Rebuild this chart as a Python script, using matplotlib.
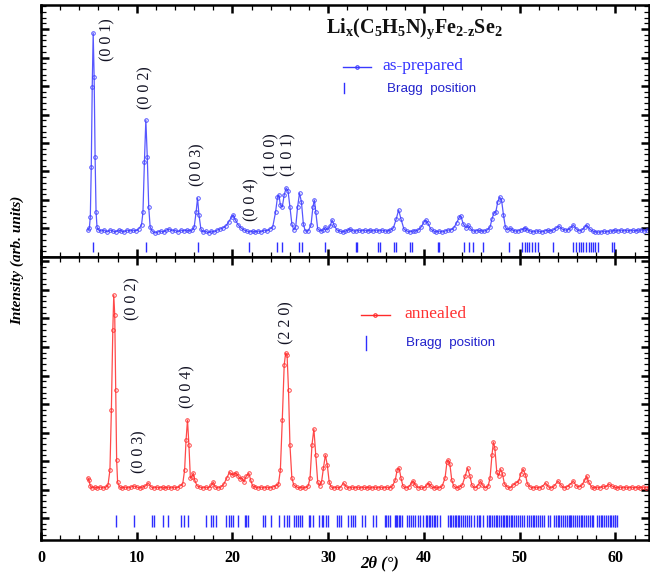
import matplotlib
matplotlib.use("Agg")
import matplotlib.pyplot as plt
from matplotlib.ticker import MultipleLocator, FixedLocator, NullFormatter
import numpy as np

plt.rcParams['mathtext.fontset'] = 'custom'
plt.rcParams['mathtext.rm'] = 'Liberation Serif:bold'
plt.rcParams['mathtext.bf'] = 'Liberation Serif:bold'
plt.rcParams['mathtext.it'] = 'Liberation Serif:italic'

# ---------------- data: as-prepared (top) ----------------
tth_top = [4.9, 5.05, 5.15, 5.25, 5.35, 5.45, 5.55, 5.65, 5.75, 5.85, 6.0, 6.3, 6.6, 6.9, 7.2, 7.5, 7.8, 8.1,
           8.4, 8.7, 9.0, 9.3, 9.6, 9.9, 10.2, 10.5, 10.65, 10.8, 10.95, 11.1, 11.25, 11.4, 11.6, 11.9, 12.2,
           12.5, 12.8, 13.1, 13.4, 13.7, 14.0, 14.3, 14.6, 14.9, 15.2, 15.5, 15.8, 16.0, 16.2, 16.35, 16.5,
           16.7, 16.9, 17.2, 17.5, 17.8, 18.1, 18.4, 18.7, 19.0, 19.3, 19.6, 19.9, 20.1, 20.3, 20.6, 20.9,
           21.2, 21.5, 21.8, 22.1, 22.4, 22.7, 23.0, 23.3, 23.6, 23.9, 24.2, 24.5, 24.7, 24.85, 25.0, 25.2,
           25.4, 25.6, 25.8, 26.0, 26.2, 26.4, 26.6, 26.8, 27.0, 27.2, 27.4, 27.6, 27.9, 28.2, 28.4, 28.55,
           28.7, 28.9, 29.2, 29.5, 29.7, 29.9, 30.2, 30.4, 30.6, 30.9, 31.2, 31.5, 31.8, 32.1, 32.3, 32.6,
           32.9, 33.2, 33.5, 33.8, 34.1, 34.4, 34.7, 35.0, 35.3, 35.6, 35.9, 36.2, 36.5, 36.8, 37.1, 37.35,
           37.6, 37.9, 38.2, 38.5, 38.8, 39.1, 39.4, 39.7, 40.0, 40.2, 40.4, 40.7, 41.0, 41.3, 41.6, 41.9,
           42.2, 42.5, 42.8, 43.1, 43.4, 43.7, 43.85, 44.1, 44.4, 44.6, 44.8, 45.1, 45.4, 45.7, 46.0, 46.3,
           46.6, 46.9, 47.1, 47.3, 47.5, 47.7, 47.9, 48.1, 48.3, 48.5, 48.7, 49.0, 49.2, 49.5, 49.8, 50.1,
           50.4, 50.6, 50.8, 51.1, 51.4, 51.7, 52.0, 52.3, 52.6, 52.9, 53.2, 53.5, 53.8, 54.1, 54.4, 54.7,
           55.0, 55.3, 55.6, 55.9, 56.2, 56.5, 56.8, 57.0, 57.3, 57.6, 57.9, 58.2, 58.5, 58.8, 59.1, 59.4,
           59.7, 60.0, 60.3, 60.6, 60.9, 61.2, 61.5, 61.8, 62.1, 62.4, 62.7, 63.0, 63.3, 63.6, 63.9]
int_top = [27, 29, 40, 90, 170, 224, 180, 100, 45, 30, 27, 26, 27, 25, 27, 26, 25, 27,
           26, 25, 27, 26, 27, 26, 28, 32, 45, 95, 137, 100, 50, 30, 26, 24, 25,
           26, 25, 27, 28, 26, 27, 25, 27, 26, 27, 26, 27, 30, 45, 59, 42,
           28, 25, 26, 24, 26, 25, 27, 28, 29, 31, 35, 40, 42, 37, 32, 29,
           27, 26, 25, 26, 25, 26, 25, 27, 26, 28, 30, 45, 60, 62, 52, 50,
           62, 69, 66, 50, 33, 27, 30, 50, 64, 55, 33, 26, 26, 32, 50, 57,
           45, 28, 26, 27, 30, 27, 31, 37, 32, 27, 26, 25, 26, 27, 28, 26,
           26, 27, 26, 27, 26, 27, 26, 27, 26, 27, 26, 26, 27, 29, 38, 47,
           38, 28, 26, 25, 26, 26, 27, 30, 35, 37, 34, 28, 26, 25, 26, 25,
           26, 27, 27, 29, 34, 40, 41, 33, 29, 32, 29, 26, 26, 27, 26, 26,
           27, 30, 38, 44, 45, 55, 60, 57, 42, 30, 27, 29, 27, 26, 26, 27,
           28, 29, 27, 26, 25, 26, 26, 25, 26, 27, 26, 27, 29, 31, 28, 27,
           27, 29, 32, 28, 26, 27, 30, 32, 28, 26, 25, 25, 25, 26, 25, 26,
           26, 27, 26, 27, 26, 27, 26, 27, 26, 27, 27, 26, 27, 26, 26]

bragg_top = [5.46, 10.97, 16.37, 21.73, 24.69, 25.15, 26.96, 27.24, 29.68, 32.85, 33.05, 35.2, 35.4,
             36.9, 37.1, 38.5, 38.7, 41.45, 41.6, 44.2, 44.65, 45.1, 46.15, 48.9, 50.2, 50.5, 50.75,
             51.0, 51.27, 51.55, 51.86, 53.5, 55.6, 55.9, 56.2, 56.4, 56.6, 56.9, 57.2, 57.4, 57.6,
             57.9, 58.2, 59.6, 59.8]

# ---------------- data: annealed (bottom) ----------------
tth_bot = [4.9, 5.0, 5.15, 5.3, 5.6, 5.9, 6.2, 6.5, 6.8, 7.0, 7.2, 7.35, 7.5, 7.6, 7.7, 7.8, 7.9, 8.0,
           8.2, 8.5, 8.8, 9.1, 9.4, 9.7, 10.0, 10.3, 10.6, 10.9, 11.2, 11.5, 11.8, 12.1, 12.4, 12.7, 13.0,
           13.3, 13.6, 13.9, 14.2, 14.5, 14.8, 15.0, 15.15, 15.3, 15.45, 15.6, 15.75, 15.9, 16.05, 16.3,
           16.6, 16.9, 17.2, 17.5, 17.8, 18.0, 18.2, 18.5, 18.8, 19.1, 19.4, 19.7, 19.95, 20.2, 20.4, 20.6,
           20.8, 21.0, 21.2, 21.45, 21.7, 21.9, 22.1, 22.4, 22.7, 23.0, 23.3, 23.6, 23.9, 24.2, 24.5, 24.8,
           25.0, 25.2, 25.4, 25.55, 25.7, 25.85, 26.0, 26.2, 26.4, 26.7, 27.0, 27.3, 27.6, 27.9, 28.1, 28.3,
           28.5, 28.7, 28.9, 29.1, 29.3, 29.5, 29.7, 29.9, 30.1, 30.3, 30.6, 30.9, 31.2, 31.6, 31.9, 32.2,
           32.5, 32.8, 33.1, 33.4, 33.7, 34.0, 34.3, 34.6, 34.9, 35.2, 35.5, 35.8, 36.1, 36.4, 36.7, 37.0,
           37.2, 37.4, 37.6, 37.8, 38.1, 38.4, 38.7, 38.9, 39.1, 39.4, 39.7, 40.0, 40.3, 40.5, 40.7, 41.0,
           41.3, 41.6, 41.9, 42.2, 42.4, 42.55, 42.7, 42.9, 43.1, 43.4, 43.7, 44.0, 44.3, 44.55, 44.8, 45.0,
           45.3, 45.6, 45.9, 46.1, 46.4, 46.7, 46.9, 47.1, 47.25, 47.4, 47.6, 47.8, 48.0, 48.2, 48.4, 48.7,
           49.0, 49.3, 49.6, 49.9, 50.1, 50.35, 50.6, 50.8, 51.1, 51.4, 51.7, 52.0, 52.3, 52.7, 53.0, 53.3,
           53.6, 54.0, 54.3, 54.6, 54.9, 55.2, 55.6, 55.9, 56.2, 56.5, 56.8, 57.0, 57.2, 57.5, 57.8, 58.1,
           58.4, 58.7, 59.0, 59.3, 59.6, 59.9, 60.2, 60.5, 60.8, 61.1, 61.4, 61.7, 62.0, 62.3, 62.6, 62.9,
           63.2, 63.5, 63.9]
int_bot = [62, 60, 54, 52, 53, 52, 53, 52, 53, 55, 70, 130, 210, 245, 225, 150, 80, 58,
           53, 52, 53, 52, 53, 54, 53, 52, 53, 54, 57, 53, 52, 53, 52, 53, 52,
           53, 52, 53, 52, 54, 56, 70, 100, 120, 95, 62, 63, 67, 60, 54,
           53, 52, 53, 52, 55, 58, 53, 52, 53, 56, 62, 68, 65, 66, 67, 64,
           61, 62, 58, 64, 67, 60, 54, 53, 52, 53, 52, 53, 52, 53, 54, 56,
           70, 120, 175, 187, 185, 150, 95, 62, 55, 53, 52, 53, 52, 54, 62, 95,
           111, 85, 58, 54, 58, 72, 85, 75, 58, 53, 52, 53, 52, 57, 53, 52,
           53, 52, 53, 52, 53, 52, 53, 52, 53, 52, 53, 52, 53, 52, 54, 60,
           70, 72, 62, 54, 52, 53, 57, 59, 55, 52, 53, 52, 55, 57, 54, 52,
           53, 52, 54, 62, 78, 80, 76, 60, 54, 52, 53, 55, 64, 72, 64, 55,
           52, 54, 59, 55, 52, 54, 62, 85, 98, 92, 68, 64, 71, 66, 56, 53,
           52, 55, 57, 59, 66, 71, 65, 56, 53, 52, 53, 52, 53, 57, 53, 52,
           54, 59, 55, 52, 53, 55, 59, 54, 53, 55, 60, 64, 58, 53, 52, 53,
           52, 54, 53, 56, 54, 53, 52, 53, 52, 53, 52, 53, 52, 53, 52, 53,
           52, 53, 52]

bragg_bot = [7.8, 9.75, 11.6, 11.85, 12.7, 13.25, 14.65, 14.9, 15.4, 17.2, 17.8, 18.0, 18.3, 19.3, 19.6,
             19.8, 20.05, 20.55, 21.3, 21.4, 21.6, 23.2, 23.4, 24.0, 24.9, 25.4, 25.7, 25.9, 26.4, 26.6,
             26.8, 27.1, 27.3, 27.95, 28.1, 28.4, 29.0, 29.35, 29.5, 29.75, 30.0, 30.9, 31.1, 31.3, 32.1,
             32.4, 32.6, 32.8, 33.5, 33.8, 34.7, 35.0, 35.9, 36.0, 36.2, 36.5, 37.0, 37.1, 37.2, 37.4,
             37.5, 37.7, 38.2, 38.4, 38.6, 38.8, 39.1, 39.4, 39.6, 39.9, 40.2, 40.35, 40.5, 40.6, 40.8,
             41.0, 41.2, 41.4, 41.7, 42.5, 42.7, 42.8, 43.0, 43.2, 43.35, 43.5, 43.7, 43.9, 44.1, 44.3,
             44.5, 44.7, 44.9, 45.2, 45.5, 45.7, 45.9, 46.2, 46.6, 46.8, 46.9, 47.1, 47.3, 47.5, 47.6,
             47.8, 48.0, 48.2, 48.4, 48.55, 48.7, 48.9, 49.1, 49.2, 49.4, 49.6, 49.8, 50.0, 50.2, 50.4,
             50.8, 51.0, 51.2, 51.35, 51.5, 51.7, 51.9, 52.1, 52.3, 52.5, 52.9, 53.2, 53.6, 53.8, 54.0,
             54.1, 54.3, 54.5, 54.7, 54.9, 55.1, 55.2, 55.4, 55.6, 55.8, 56.0, 56.2, 56.4, 56.5, 56.7,
             56.9, 57.1, 57.3, 57.5, 57.7, 58.1, 58.3, 58.5, 58.6, 58.8, 59.0, 59.2, 59.4, 59.5, 59.7,
             59.9, 60.0, 60.2]

# peak labels: (text, 2theta, height)
labels_top = ["(0 0 1)", "(0 0 2)", "(0 0 3)", "(0 0 4)", "(1 0 0)", "(1 0 1)"]
labels_top_x = [6.9, 10.9, 16.3, 21.95, 24.05, 25.8]
labels_top_y = [217, 169, 92, 57, 102, 102]
labels_bot = ["(0 0 2)", "(0 0 3)", "(0 0 4)", "(2 2 0)"]
labels_bot_x = [9.5, 10.3, 15.3, 25.6]
labels_bot_y = [241, 88, 153, 217]

BLUE = '#3a3aff'
RED = '#ff2a2a'
TICKBLUE = '#2e2eff'
W, H = 650, 573

fig = plt.figure(figsize=(6.5, 5.73), dpi=100)
L, R = 41 / W, 649 / W
y_top, y_mid, y_bot = 1 - 5 / H, 1 - 257 / H, 1 - 540 / H
ax1 = fig.add_axes([L, y_mid, R - L, y_top - y_mid])
ax2 = fig.add_axes([L, y_bot, R - L, y_mid - y_bot])

ax1.plot(tth_top, int_top, color=BLUE, lw=0.9, marker='o', ms=2.6, mfc='none', mec=BLUE, mew=0.7, alpha=0.85)
ax1.vlines(bragg_top, 5, 15, color=TICKBLUE, lw=1.0)
ax2.plot(tth_bot, int_bot, color=RED, lw=0.9, marker='o', ms=2.6, mfc='none', mec=RED, mew=0.7, alpha=0.85)
ax2.vlines(bragg_bot, 13, 25, color=TICKBLUE, lw=1.0)

ax1.set_ylim(0, 252)
ax2.set_ylim(0, 283)
for ax in (ax1, ax2):
    ax.set_xlim(0, 63.5)
    for s in ax.spines.values():
        s.set_linewidth(1.8)
    ax.xaxis.set_major_locator(MultipleLocator(10))
    ax.xaxis.set_minor_locator(MultipleLocator(2))
    ax.tick_params(which='both', direction='in', top=True, right=True, labelleft=False)
    ax.tick_params(which='major', length=6, width=1.8)
    ax.tick_params(which='minor', length=3.5, width=0.9)
    ax.yaxis.set_major_formatter(NullFormatter())

ax1.yaxis.set_major_locator(MultipleLocator(28.5))
ax1.yaxis.set_minor_locator(MultipleLocator(5.7))
ax2.yaxis.set_major_locator(FixedLocator(np.arange(22, 283, 28.5)))
ax2.yaxis.set_minor_locator(FixedLocator(np.arange(-0.8, 283, 5.7)))
ax1.tick_params(labelbottom=False)
ax2.set_xticks([0, 10, 20, 30, 40, 50, 60])
ax2.set_xticklabels(['0', '10', '20', '30', '40', '50', '60'], fontfamily='Liberation Serif',
                    fontweight='bold', fontsize=11.5)
ax2.tick_params(axis='x', pad=7)

for t, x, y in zip(labels_top, labels_top_x, labels_top_y):
    ax1.text(x, y, t, rotation=90, ha='center', va='center', fontfamily='Liberation Serif',
             fontsize=11.5, color='#111122')
for t, x, y in zip(labels_bot, labels_bot_x, labels_bot_y):
    ax2.text(x, y, t, rotation=90, ha='center', va='center', fontfamily='Liberation Serif',
             fontsize=11.5, color='#111122')


def fx(px):
    return px / W


def fy(py):
    return 1 - py / H


# title
fig.text(fx(414), fy(29), r'$\mathbf{Li_x(C_5H_5N)_yFe_{2\text{-}z}Se_2}$', ha='center', va='center',
         fontsize=14.5, color='#111111')

# legends (top)
fig.add_artist(plt.Line2D([fx(343), fx(371)], [fy(67), fy(67)], color=BLUE, lw=1.0))
fig.add_artist(plt.Line2D([fx(357)], [fy(67)], color=BLUE, marker='o', ms=2.5, mfc='none', mew=0.8))
fig.text(fx(382), fy(66), 'as-prepared', ha='left', va='center', fontfamily='Liberation Serif',
         fontsize=12.5, color='#3434ff')
fig.add_artist(plt.Line2D([fx(344), fx(344)], [fy(83), fy(93)], color=TICKBLUE, lw=1.0))
fig.text(fx(387), fy(89), 'Bragg  position', ha='left', va='center', fontfamily='Liberation Sans',
         fontsize=9.6, color='#2222cc')

# legends (bottom)
fig.add_artist(plt.Line2D([fx(361), fx(390)], [fy(315), fy(315)], color=RED, lw=1.0))
fig.add_artist(plt.Line2D([fx(375)], [fy(315)], color=RED, marker='o', ms=2.5, mfc='none', mew=0.8))
fig.text(fx(404), fy(314), 'annealed', ha='left', va='center', fontfamily='Liberation Serif',
         fontsize=12.5, color='#ff3030')
fig.add_artist(plt.Line2D([fx(366), fx(366)], [fy(336), fy(350)], color=TICKBLUE, lw=1.0))
fig.text(fx(406), fy(343), 'Bragg  position', ha='left', va='center', fontfamily='Liberation Sans',
         fontsize=9.6, color='#2222cc')

# axis labels
fig.text(fx(17), fy(260), 'Intensity (arb. units)', rotation=90, ha='center', va='center',
         fontfamily='Liberation Serif', fontweight='bold', fontstyle='italic', fontsize=11)
fig.text(fx(380), fy(563), '2θ (°)', ha='center', va='center', fontfamily='Liberation Serif',
         fontweight='bold', fontstyle='italic', fontsize=12)

fig.savefig('out.png', dpi=100)
